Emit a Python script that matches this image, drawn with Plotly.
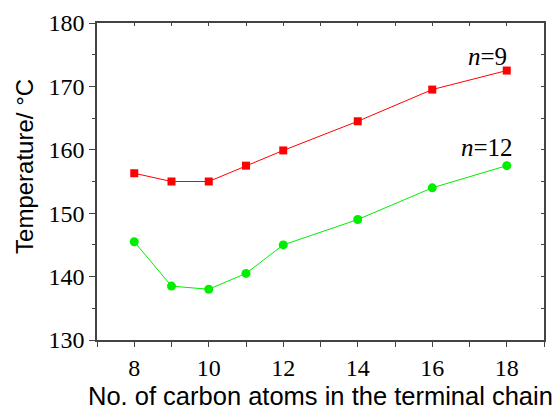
import plotly.graph_objects as go

carbons = [8, 9, 10, 11, 12, 14, 16, 18]
temp_n9 = [156.3, 155.0, 155.0, 157.5, 159.9, 164.5, 169.5, 172.5]
temp_n12 = [145.5, 138.5, 138.0, 140.5, 145.0, 149.0, 154.0, 157.5]

x_tickvals = [7, 8, 9, 10, 11, 12, 13, 14, 15, 16, 17, 18, 19]
x_ticktext = ["", "8", "", "10", "", "12", "", "14", "", "16", "", "18", ""]
y_tickvals = [130, 140, 150, 160, 170, 180]

serif = "Liberation Serif, Times New Roman, serif"
sans = "Liberation Sans, Arial, sans-serif"
axis_color = "#444444"

fig = go.Figure()
fig.add_trace(go.Scatter(
    x=carbons, y=temp_n9, mode="lines+markers",
    line=dict(color="#ff0000", width=1),
    marker=dict(symbol="square", size=8, color="#ff0000"),
    showlegend=False))
fig.add_trace(go.Scatter(
    x=carbons, y=temp_n12, mode="lines+markers",
    line=dict(color="#00ee00", width=1),
    marker=dict(symbol="circle", size=9, color="#00ee00"),
    showlegend=False))

fig.add_trace(go.Scatter(x=[None], y=[None], xaxis="x2", yaxis="y2", showlegend=False))

fig.update_layout(
    template="none",
    width=556, height=411,
    margin=dict(l=97, r=12, t=23, b=71),
    plot_bgcolor="white", paper_bgcolor="white",
    xaxis=dict(
        range=[7, 19], tickmode="array", tickvals=x_tickvals, ticktext=x_ticktext,
        ticks="outside", ticklen=5, tickwidth=1.2, tickcolor=axis_color,
        showline=True, linecolor=axis_color, linewidth=1.5,
        showgrid=False, zeroline=False, automargin=False,
        tickfont=dict(family=serif, size=24, color="black"),
    ),
    yaxis=dict(
        range=[130, 180], tickmode="array", tickvals=y_tickvals,
        ticks="outside", ticklen=6, tickwidth=1.2, tickcolor=axis_color,
        minor=dict(dtick=5, tick0=130, ticks="outside", ticklen=3, tickcolor=axis_color, tickwidth=1.2),
        showline=True, linecolor=axis_color, linewidth=1.5,
        showgrid=False, zeroline=False, automargin=False,
        tickfont=dict(family=serif, size=24, color="black"),
    ),
    xaxis2=dict(
        overlaying="x", side="top", range=[7, 19], tickmode="array",
        tickvals=x_tickvals, ticktext=[""] * len(x_tickvals),
        ticks="inside", ticklen=3, tickcolor=axis_color,
        showline=True, linecolor=axis_color, linewidth=1.5,
        showgrid=False, zeroline=False, automargin=False,
    ),
    yaxis2=dict(
        overlaying="y", side="right", range=[130, 180], tickmode="linear",
        tick0=130, dtick=5, showticklabels=False,
        ticks="inside", ticklen=3, tickcolor=axis_color,
        showline=True, linecolor=axis_color, linewidth=1.5,
        showgrid=False, zeroline=False, automargin=False,
    ),
    annotations=[
        dict(x=17.47, y=174.7, xref="x", yref="y", text="<i>n</i>=9", showarrow=False,
             font=dict(family=serif, size=25, color="black")),
        dict(x=17.46, y=160.4, xref="x", yref="y", text="<i>n</i>=12", showarrow=False,
             font=dict(family=serif, size=25, color="black")),
        dict(x=0, y=0.546, xref="paper", yref="paper", xshift=-72, textangle=-90,
             text="Temperature/ °C", showarrow=False, xanchor="center", yanchor="middle",
             font=dict(family=sans, size=24, color="black")),
        dict(x=0.5, y=0, xref="paper", yref="paper", yshift=-56,
             text="No. of carbon atoms in the terminal chain", showarrow=False,
             xanchor="center", yanchor="middle", borderpad=0,
             font=dict(family=sans, size=25.5, color="black")),
    ],
)

fig.write_html("out.html", config={"displayModeBar": False},
               post_script="document.body.style.margin='0';document.body.style.overflow='hidden';")
